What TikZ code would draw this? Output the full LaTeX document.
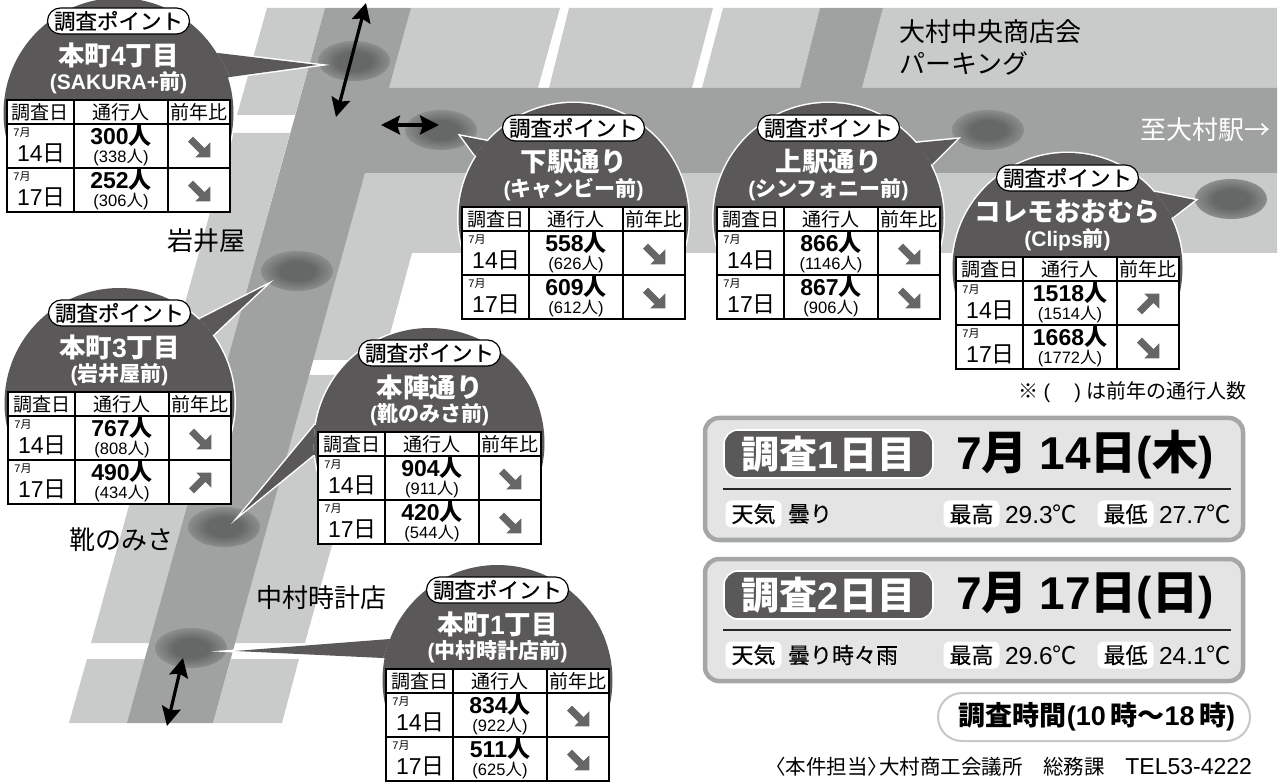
\documentclass[tikz,border=0pt]{standalone}
\usepackage{fontspec}
\usetikzlibrary{arrows.meta}
\setmainfont{Noto Sans CJK JP}
\newfontfamily\la{Liberation Sans}
\newfontfamily\jam[FakeBold=0.35]{Noto Sans CJK JP}
\definecolor{roadlight}{HTML}{C9CBCA}
\definecolor{roaddark}{HTML}{A0A2A1}
\definecolor{bubble}{HTML}{5A5859}
\definecolor{spotin}{HTML}{666867}
\definecolor{spotout}{HTML}{8C8E8D}
\definecolor{panelfill}{HTML}{E4E4E4}
\definecolor{panelline}{HTML}{A5A6A6}
\definecolor{icon}{HTML}{666666}
\pgfdeclareradialshading{spotshade}{\pgfpoint{0bp}{0bp}}{color(0bp)=(spotin); color(12bp)=(spotin); color(25bp)=(spotout); color(50bp)=(spotout)}
\newcommand\fs[1]{\fontsize{#1}{#1}\selectfont}
\newcommand\lp{{\la(}}
\newcommand\rp{{\la)}}
\tikzset{
  txt/.style={inner sep=0pt,outer sep=0pt,anchor=center},
  hdr/.style={txt,font=\fs{19}},
  badge/.style={txt,draw=black,line width=1.2pt,fill=white,rounded corners=13pt,minimum width=142pt,minimum height=26pt,font=\fs{21.5}\jam},
  btitle/.style={txt,text=white,font=\fs{26.5}\bfseries},
  bsub/.style={txt,text=white,font=\fs{21}\bfseries},
  cellline/.style={draw=black,line width=1.1pt},
  num/.style={txt,font=\fs{23}\bfseries},
  prev/.style={txt,font=\fs{16.5}},
  mon/.style={txt,font=\fs{11}},
  day/.style={txt,font=\fs{23}},
  dblarrow/.style={line width=3.2pt,{Stealth[length=19pt,width=19pt,inset=3pt]}-{Stealth[length=19pt,width=19pt,inset=3pt]}},
  place/.style={txt,font=\fs{26}},
  panel/.style={draw=panelline,fill=panelfill,line width=4.5pt,rounded corners=14pt},
  daypill/.style={txt,fill=bubble,draw=white,line width=1.6pt,rounded corners=14pt,minimum width=209pt,minimum height=48pt,text=white,font=\fs{38}\bfseries},
  datetxt/.style={inner sep=0pt,outer sep=0pt,anchor=west,font=\fs{46}\bfseries},
  tag/.style={txt,fill=white,rounded corners=6pt,minimum width=56pt,minimum height=27pt,font=\fs{22}\jam},
  wx/.style={inner sep=0pt,outer sep=0pt,anchor=west,font=\fs{22}\jam},
  temp/.style={inner sep=0pt,outer sep=0pt,anchor=west,font=\fs{24.5}},
}
\newcommand\spotmark[3]{\coordinate (#1) at (#2,#3);
  \shade[shading=spotshade] (#1) ellipse (36 and 20);}
\newcommand\bubbleshape[6]{% id, centre, base1, base2, tip
  \coordinate (#1-c) at (#2);\coordinate (#1-b1) at (#3);\coordinate (#1-b2) at (#4);\coordinate (#1-t) at (#5);
  \draw[white,line width=3pt,miter limit=40] (#1-b1) -- (#1-t) -- (#1-b2);
  \begin{scope}
  \clip (#1-c) ++(-125,-125) rectangle ++(250,185);
  \draw[white,line width=3pt] (#1-c) circle (115);
  \fill[bubble] (#1-c) circle (115);
  \end{scope}
  \fill[bubble] (#1-b1) -- (#1-t) -- (#1-b2) -- cycle;
  \fill[bubble] (#1-b1) -- (#1-b2) -- (#1-c) -- cycle;
}
\newcommand\downicon[1]{\fill[icon,shift={(#1)}] (-11,-5.3) -- (-6,-10.3) -- (5.45,1.15) -- (11.3,-4.7) -- (11.3,10.3) -- (-3.7,10.3) -- (0.45,6.15) -- cycle;}
\newcommand\upicon[1]{\fill[icon,shift={(#1)}] (-11,5.3) -- (-6,10.3) -- (5.45,-1.15) -- (11.3,4.7) -- (11.3,-10.3) -- (-3.7,-10.3) -- (0.45,-6.15) -- cycle;}
\newcommand\surveytable[9]{% id x y n1 p1 i1 n2 p2 i2
  \begin{scope}[shift={(#2,#3)}]
  \fill[white] (0,0) rectangle (223,112);
  \draw[cellline] (0,0) rectangle (223,112);
  \draw[cellline] (0,24) -- (223,24) (0,68) -- (223,68) (67,0) -- (67,112) (161,0) -- (161,112);
  \node[hdr] (#1-h1) at (33.5,12.5) {調査日};
  \node[hdr] (#1-h2) at (114,12.5) {通行人};
  \node[hdr] (#1-h3) at (192,12.5) {前年比};
  \node[mon] (#1-m1) at (15,33) {{\la 7}月};
  \node[day] (#1-d1) at (34.5,53) {{\la 14}日};
  \node[num] (#1-n1) at (114,36) {{\la #4}人};
  \node[prev] (#1-p1) at (114,58) {\lp{\la #5}人\rp};
  \csname #6icon\endcsname{192,47}
  \node[mon] (#1-m2) at (15,77) {{\la 7}月};
  \node[day] (#1-d2) at (34.5,97) {{\la 17}日};
  \node[num] (#1-n2) at (114,80) {{\la #7}人};
  \node[prev] (#1-p2) at (114,102) {\lp{\la #8}人\rp};
  \csname #9icon\endcsname{192,91}
  \end{scope}
}
\newcommand\bubbletext[5]{% id cx ty title sub
  \begin{scope}[shift={(#2,#3)}]
  \node[badge] (#1-badge) at (0,-79) {調査ポイント};
  \node[btitle] (#1-title) at (0,-45) {#4};
  \node[bsub] (#1-sub) at (0,-17) {#5};
  \end{scope}
}
\newcommand\daypanel[7]{% id y pilltext date weather t1 t2
  \begin{scope}[shift={(0,#2)}]
  \path[panel] (705,418) rectangle (1243,540);
  \node[daypill] (#1-pill) at (828.5,454) {#3};
  \node[datetxt] (#1-date) at (956,455) {#4};
  \draw[line width=1.2pt,draw=black!85] (723,489) -- (1231,489);
  \node[tag] (#1-wt) at (753.5,514) {天気};
  \node[wx] (#1-wx) at (788,514) {#5};
  \node[tag] (#1-hi) at (971.5,514) {最高};
  \node[temp] (#1-hit) at (1005,514) {{\la #6}℃};
  \node[tag] (#1-lo) at (1125.5,514) {最低};
  \node[temp] (#1-lot) at (1159,514) {{\la #7}℃};
  \end{scope}
}
\begin{document}
\begin{tikzpicture}[x=1pt,y=-1pt]
\useasboundingbox (0,0) rectangle (1278,783);
\clip (0,0) rectangle (1278,783);
% light blocks
\fill[roadlight] (267,8) -- (325,8) -- (295,115) -- (237,115) -- cycle;
\fill[roadlight] (232,133) -- (290,133) -- (150,643) -- (91,643) -- cycle;
\fill[roadlight] (87,659) -- (146,659) -- (127,723) -- (69,723) -- cycle;
\fill[roadlight] (411,8) -- (560,8) -- (538,88) -- (389,88) -- cycle;
\fill[roadlight] (569,8) -- (713,8) -- (692,88) -- (549,88) -- cycle;
\fill[roadlight] (723,8) -- (820,8) -- (800,88) -- (702,88) -- cycle;
\fill[roadlight] (883,8) -- (1277,8) -- (1277,88) -- (862,88) -- cycle;
\fill[roadlight] (365,173) -- (1277,173) -- (1277,253) -- (412,253) -- (383,360) -- (313,360) -- cycle;
\fill[roadlight] (309,375) -- (379,375) -- (305,643) -- (235,643) -- cycle;
\fill[roadlight] (231,659) -- (299,659) -- (282,723) -- (213,723) -- cycle;
% dark roads
\fill[roaddark] (325,8) -- (411,8) -- (389,88) -- (1277,88) -- (1277,173) -- (365,173) -- (213,723) -- (127,723) -- cycle;
\fill[roaddark] (820,8) -- (883,8) -- (862,88) -- (800,88) -- cycle;
% places
\node[place] (iwaiya) at (206,241) {岩井屋};
\node[place] (kutsu) at (121,540) {靴のみさ};
\node[place] (nakamura) at (321,598) {中村時計店};
\node[place,anchor=west] (chuo) at (899,32) {大村中央商店会};
\node[place,anchor=west] (park) at (899,63) {パーキング};
\node[txt,text=white,font=\fs{26},anchor=east] (eki) at (1270,130) {至大村駅→};
% spots
\spotmark{sa}{354}{61}
\spotmark{sb}{441}{130}
\spotmark{sc}{988}{130}
\spotmark{sd}{1231}{199}
\spotmark{se}{297}{271}
\spotmark{sf}{224}{527}
\spotmark{sg}{191}{648}
% double arrows
\coordinate (a1) at (366,3);\coordinate (a2) at (336,117);
\draw[dblarrow] (a1) -- (a2);
\coordinate (a3) at (381,125);\coordinate (a4) at (439,125);
\draw[dblarrow] (a3) -- (a4);
\coordinate (a5) at (183,658);\coordinate (a6) at (167,726);
\draw[dblarrow] (a5) -- (a6);
% bubbles
\bubbleshape{a}{118.5,113}{218,53}{230,77}{318,65}{}
\bubbletext{a}{118.5}{100}{本町{\la 4}丁目}{\lp{\la SAKURA+}前\rp}
\surveytable{a}{7}{100}{300}{338}{down}{252}{306}{down}
\bubbleshape{b}{573.5,218}{487,141}{475,155}{461,136}{}
\bubbletext{b}{573.5}{207}{下駅通り}{\lp キャンビー前\rp}
\surveytable{b}{462}{207}{558}{626}{down}{609}{612}{down}
\bubbleshape{c}{828.5,218}{915,143}{932,164}{957,139}{}
\bubbletext{c}{828.5}{207}{上駅通り}{\lp シンフォニー前\rp}
\surveytable{c}{717}{207}{866}{1146}{down}{867}{906}{down}
\bubbleshape{d}{1067.5,268}{1155,192}{1173,217}{1195,200}{}
\bubbletext{d}{1067.5}{257}{コレモおおむら}{\lp{\la Clips}前\rp}
\surveytable{d}{956}{257}{1518}{1514}{up}{1668}{1772}{down}
\bubbleshape{e}{119.5,403}{200,319}{213,335}{265,286}{}
\bubbletext{e}{119.5}{392}{本町{\la 3}丁目}{\lp 岩井屋前\rp}
\surveytable{e}{8}{392}{767}{808}{down}{490}{434}{up}
\bubbleshape{f}{429.5,443}{315,425}{313,455}{242,513}{}
\bubbletext{f}{429.5}{432}{本陣通り}{\lp 靴のみさ前\rp}
\surveytable{f}{318}{432}{904}{911}{down}{420}{544}{down}
\bubbleshape{g}{497.5,680}{390,639}{383,658}{235,651}{}
\bubbletext{g}{497.5}{669}{本町{\la 1}丁目}{\lp 中村時計店前\rp}
\surveytable{g}{386}{669}{834}{922}{down}{511}{625}{down}
% note
\node[txt,font=\fs{20},anchor=east] (note) at (1246,392) {※\hspace{5pt}\lp\hspace{24pt}\rp\hspace{5pt}は前年の通行人数};
% panels
\daypanel{p1}{0}{調査{\la 1}日目}{{\la 7}月\hspace{12pt}{\la 14}日{\la(}木{\la)}}{曇り}{29.3}{27.7}
\daypanel{p2}{141}{調査{\la 2}日目}{{\la 7}月\hspace{12pt}{\la 17}日{\la(}日{\la)}}{曇り時々雨}{29.6}{24.1}
% time pill
\node[txt,draw=black!22,line width=2pt,fill=white,rounded corners=24pt,minimum width=312pt,minimum height=48pt] (timepill) at (1094,717) {};
\node[txt,font=\fs{27}\bfseries] (timetxt) at (1097,717) {調査時間{\la(10\,}時〜{\la 18\,}時{\la)}};
\node[txt,font=\fs{20.5},anchor=east] (foot) at (1252,767) {\hspace{-9pt}〈本件担当〉\hspace{-9pt}大村商工会議所　総務課　{\la\fs{23}TEL53-4222}};
\end{tikzpicture}
\end{document}
